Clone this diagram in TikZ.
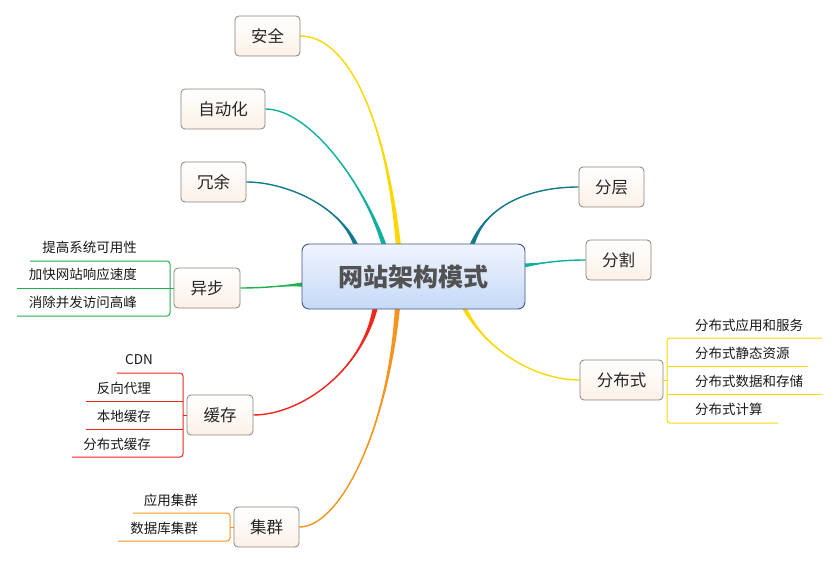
\documentclass[tikz,border=0pt]{standalone}
\usepackage{fontspec}
\setmainfont{Noto Sans CJK SC}
\usetikzlibrary{calc}
\pgfdeclarelayer{bg}
\pgfsetlayers{bg,main}
\definecolor{cYellow}{HTML}{FFD700}
\definecolor{cTeal}{HTML}{0FB19E}
\definecolor{cDTeal}{HTML}{12798F}
\definecolor{cGreen}{HTML}{1DB24E}
\definecolor{cRed}{HTML}{F2261B}
\definecolor{cOrange}{HTML}{F7941D}
\definecolor{nodeBorder}{HTML}{8C827A}
\definecolor{mainBorder}{HTML}{3F5686}
\definecolor{mainTop}{HTML}{F0F4FE}
\definecolor{mainBot}{HTML}{C6D9F7}
\definecolor{topicBot}{HTML}{FCF1E8}
\newcommand\taper[6]{%
  \fill[#1] #2 .. controls #3 and #4 .. ($#5+#6$) -- ($#5-#6$) .. controls #4 and #3 .. #2 -- cycle;
  \draw[#1,line width=1.4pt] #2 .. controls #3 and #4 .. #5;}
\tikzset{
  topic/.style={draw=nodeBorder, line width=0.8pt, rounded corners=4pt,
    top color=white, bottom color=topicBot, inner sep=0pt,
    minimum height=40pt, font=\fontsize{16.5}{18}\selectfont, text=black!85},
  mainnode/.style={draw=mainBorder, line width=0.9pt, rounded corners=7pt,
    top color=mainTop, bottom color=mainBot, inner sep=0pt,
    minimum width=223pt, minimum height=65pt,
    font=\fontsize{25}{28}\selectfont\bfseries, text=black!68},
  sub/.style={font=\fontsize{13.5}{15}\selectfont, inner sep=0pt, text=black!90},
  bracket/.style={line width=1pt, rounded corners=3pt},
}
\begin{document}
\begin{tikzpicture}[x=1pt,y=-1pt]
\useasboundingbox (0,0) rectangle (838,564);
% main and topic nodes
\node[mainnode] (c) at (413.5,276.5) {网站架构模式};
\node[topic, minimum width=65pt] (anquan) at (267.5,36) {安全};
\node[topic, minimum width=84pt] (zidong) at (223,109) {自动化};
\node[topic, minimum width=65pt] (rongyu) at (213.5,182) {冗余};
\node[topic, minimum width=66pt] (yibu) at (207,288) {异步};
\node[topic, minimum width=66pt] (huancun) at (220,415) {缓存};
\node[topic, minimum width=65pt] (jiqun) at (266.5,527) {集群};
\node[topic, minimum width=65pt] (fenceng) at (611.5,187) {分层};
\node[topic, minimum width=65pt] (fenge) at (618.5,260) {分割};
\node[topic, minimum width=83pt] (fenbu) at (621.5,380) {分布式};
% end points on the main node
\coordinate (eA) at ($(c.north west)+(97,3)$);
\coordinate (eZ) at ($(c.north west)+(83,3)$);
\coordinate (eR) at ($(c.north west)+(55,3)$);
\coordinate (eY) at ($(c.north west)+(3,41)$);
\coordinate (eH) at ($(c.south west)+(74,-3)$);
\coordinate (eJ) at ($(c.south west)+(96,-3)$);
\coordinate (eC) at ($(c.north west)+(170,3)$);
\coordinate (eG) at ($(c.north east)+(-3,22)$);
\coordinate (eF) at ($(c.south west)+(162,-3)$);
\begin{pgfonlayer}{bg}
\taper{cYellow}{(anquan.east)}{(345,36)}{(385,110)}{(eA)}{(2.6,0)}
\taper{cTeal}{(zidong.east)}{(310,109)}{(365,185)}{(eZ)}{(2.6,0)}
\taper{cDTeal}{(rongyu.east)}{(285,182)}{(340,205)}{(eR)}{(2.6,0)}
\taper{cGreen}{(yibu.east)}{(270,288)}{(285,285)}{(eY)}{(0,2.4)}
\taper{cRed}{(huancun.east)}{(300,415)}{(362,372)}{(eH)}{(2.6,0)}
\taper{cOrange}{(jiqun.east)}{(340,527)}{(388,430)}{(eJ)}{(2.6,0)}
\taper{cDTeal}{(fenceng.west)}{(530,187)}{(485,205)}{(eC)}{(2.6,0)}
\taper{cTeal}{(fenge.west)}{(555,260)}{(540,264)}{(eG)}{(0,2.4)}
\taper{cYellow}{(fenbu.west)}{(535,380)}{(485,350)}{(eF)}{(2.6,0)}
\end{pgfonlayer}
% ---- 异步 children
\node[sub, anchor=east] (y1) at (137,247) {提高系统可用性};
\node[sub, anchor=east] (y2) at (137,274) {加快网站响应速度};
\node[sub, anchor=east] (y3) at (137,302) {消除并发访问高峰};
\coordinate (y1a) at (30,261);  \coordinate (y1b) at (170,261);
\coordinate (y2a) at (17,288);
\coordinate (y3a) at (17,316);  \coordinate (y3b) at (170,316);
\draw[bracket, cGreen] (y1a) -- (y1b) -- (y3b) -- (y3a);
\draw[line width=1pt, cGreen] (y2a) -- (yibu.west);
% ---- 缓存 children
\node[sub, anchor=east] (h1) at (153,360) {CDN};
\node[sub, anchor=east] (h2) at (151,388) {反向代理};
\node[sub, anchor=east] (h3) at (151,416) {本地缓存};
\node[sub, anchor=east] (h4) at (151,444) {分布式缓存};
\coordinate (h1a) at (117,373); \coordinate (h1b) at (183,373);
\coordinate (h2a) at (86,401);  \coordinate (h2b) at (183,401);
\coordinate (h3a) at (86,429);  \coordinate (h3b) at (183,429);
\coordinate (h4a) at (72,457);  \coordinate (h4b) at (183,457);
\coordinate (hm) at (183,415);
\draw[bracket, cRed] (h1a) -- (h1b) -- (h4b) -- (h4a);
\draw[line width=1pt, cRed] (h2a) -- (h2b);
\draw[line width=1pt, cRed] (h3a) -- (h3b);
\draw[line width=1pt, cRed] (hm) -- (huancun.west);
% ---- 集群 children
\node[sub, anchor=east] (j1) at (198,500) {应用集群};
\node[sub, anchor=east] (j2) at (198,528) {数据库集群};
\coordinate (j1a) at (133,513); \coordinate (j1b) at (230,513);
\coordinate (j2a) at (118,541); \coordinate (j2b) at (230,541);
\coordinate (jm) at (230,527);
\draw[bracket, cOrange] (j1a) -- (j1b) -- (j2b) -- (j2a);
\draw[line width=1pt, cOrange] (jm) -- (jiqun.west);
% ---- 分布式 children
\node[sub, anchor=west] (f1) at (695,325) {分布式应用和服务};
\node[sub, anchor=west] (f2) at (695,353) {分布式静态资源};
\node[sub, anchor=west] (f3) at (695,381) {分布式数据和存储};
\node[sub, anchor=west] (f4) at (695,409) {分布式计算};
\coordinate (f1a) at (822,338); \coordinate (f1b) at (667,338);
\coordinate (f2a) at (808,366); \coordinate (f2b) at (667,366);
\coordinate (f3a) at (822,394); \coordinate (f3b) at (667,394);
\coordinate (f4a) at (778,423); \coordinate (f4b) at (667,423);
\coordinate (fm) at (667,380);
\draw[bracket, cYellow] (f1a) -- (f1b) -- (f4b) -- (f4a);
\draw[line width=1pt, cYellow] (f2a) -- (f2b);
\draw[line width=1pt, cYellow] (f3a) -- (f3b);
\draw[line width=1pt, cYellow] (fm) -- (fenbu.east);
\end{tikzpicture}
\end{document}
